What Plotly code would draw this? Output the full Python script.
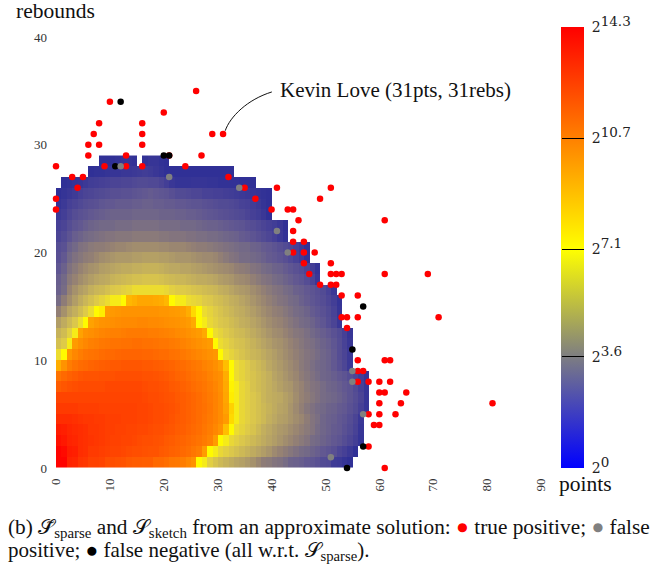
import plotly.graph_objects as go

# exponent (log2 of point count) per cell, one list per rebound row; column index = points
r0 = [14.2,14.2,13.3,13.2,12.8,12.7,12.4,12.4,12.3,12.0,
      12.0,11.9,11.8,11.6,11.5,11.5,11.4,11.4,11.0,11.0,
      10.8,10.5,10.4,10.2,9.8,9.4,7.1,7.0,6.6,6.3,
      6.0,5.8,5.6,5.4,5.3,5.1,4.9,4.6,4.3,4.2,
      4.0,3.9,3.7,3.4,3.3,3.2,3.0,2.9,2.7,2.4,
      2.3,1.6,1.5,1.2,1.0]
r1 = [14.2,14.0,13.5,13.4,13.0,12.9,12.6,12.6,12.5,12.4,
      12.3,12.3,12.2,12.1,12.0,12.0,11.9,11.8,11.8,11.6,
      11.5,11.3,11.2,11.0,10.8,10.5,10.2,9.0,7.1,7.0,
      6.8,6.6,6.4,6.2,6.0,5.8,5.6,5.4,5.2,5.0,
      4.7,4.5,4.3,4.1,3.9,3.7,3.6,3.4,3.2,3.0,
      2.8,2.6,2.2,1.9,1.5,1.0]
r2 = [13.8,13.6,13.3,13.2,13.0,12.9,12.8,12.7,12.6,12.5,
      12.4,12.4,12.3,12.3,12.2,12.1,12.0,12.0,11.9,11.8,
      11.6,11.5,11.3,11.2,11.0,10.8,10.6,10.3,10.0,9.0,
      7.1,7.0,6.8,6.6,6.4,6.2,6.0,5.8,5.6,5.4,
      5.2,5.0,4.8,4.6,4.4,4.2,4.0,3.7,3.6,3.4,
      3.2,3.0,2.8,2.5,2.2,1.8,1.2]
r3 = [13.5,13.4,13.2,13.1,13.0,12.9,12.7,12.7,12.6,12.5,
      12.5,12.4,12.4,12.3,12.3,12.2,12.2,12.1,12.0,12.0,
      11.8,11.7,11.5,11.4,11.2,11.0,10.8,10.5,10.2,9.8,
      9.3,8.0,7.1,6.9,6.7,6.5,6.3,6.0,5.7,5.5,
      5.3,5.1,5.0,4.8,4.6,4.4,4.2,4.0,3.7,3.5,
      3.3,3.1,3.0,2.7,2.4,2.0,1.3]
r4 = [13.0,13.0,13.0,12.9,12.8,12.7,12.7,12.6,12.6,12.5,
      12.5,12.5,12.4,12.4,12.4,12.3,12.3,12.2,12.1,12.1,
      12.0,11.8,11.6,11.5,11.3,11.1,10.9,10.6,10.3,10.0,
      9.6,9.0,7.6,7.0,6.8,6.6,6.4,6.2,6.0,5.7,
      5.5,5.3,5.2,5.0,4.8,4.6,4.3,4.0,3.8,3.5,
      3.3,3.2,3.0,2.8,2.5,2.1,1.4]
r5 = [12.6,12.6,12.6,12.6,12.5,12.5,12.5,12.5,12.4,12.4,
      12.4,12.4,12.4,12.4,12.4,12.3,12.3,12.2,12.1,12.1,
      12.0,11.9,11.7,11.5,11.3,11.1,10.9,10.7,10.4,10.0,
      9.6,8.8,7.7,7.0,6.8,6.6,6.4,6.2,6.0,5.8,
      5.6,5.4,5.3,5.0,4.7,4.4,4.1,3.9,3.7,3.6,
      3.4,3.3,3.1,3.0,2.7,2.4,1.9,1.3]
r6 = [12.3,12.3,12.3,12.3,12.3,12.3,12.3,12.3,12.3,12.3,
      12.3,12.3,12.3,12.3,12.3,12.3,12.2,12.1,12.1,12.0,
      11.9,11.8,11.6,11.5,11.3,11.1,10.9,10.6,10.3,10.0,
      9.6,8.7,7.3,7.0,6.8,6.6,6.4,6.2,5.9,5.7,
      5.6,5.5,5.3,5.1,4.8,4.5,4.3,4.1,3.9,3.7,
      3.6,3.5,3.3,3.1,2.8,2.5,2.1,1.3]
r7 = [11.5,11.7,11.9,12.0,12.1,12.1,12.1,12.1,12.1,12.2,
      12.2,12.2,12.2,12.2,12.2,12.2,12.1,12.0,12.0,11.9,
      11.8,11.6,11.5,11.3,11.1,10.9,10.7,10.5,10.2,9.9,
      9.5,8.6,7.2,7.0,6.8,6.6,6.3,6.1,5.9,5.7,
      5.5,5.3,5.1,5.0,4.7,4.5,4.2,4.0,3.9,3.7,
      3.5,3.4,3.2,3.0,2.8,2.4,1.9,1.3]
r8 = [10.6,11.0,11.3,11.5,11.7,11.8,11.8,11.8,11.9,11.9,
      11.9,12.0,12.0,12.0,12.0,12.0,11.9,11.9,11.8,11.7,
      11.6,11.4,11.2,11.1,10.9,10.7,10.5,10.3,10.0,9.7,
      9.5,8.5,7.1,6.9,6.7,6.5,6.3,6.1,5.9,5.7,
      5.4,5.2,5.0,4.8,4.6,4.3,4.1,3.9,3.7,3.5,
      3.4,3.2,3.0,2.8,2.5,2.2,1.7,1.2]
r9 = [8.5,9.3,10.2,10.6,10.9,11.0,11.2,11.3,11.4,11.5,
      11.6,11.6,11.7,11.7,11.7,11.7,11.6,11.6,11.5,11.4,
      11.3,11.2,11.0,10.9,10.7,10.5,10.3,10.0,9.8,9.5,
      9.0,8.0,7.1,6.9,6.7,6.5,6.2,6.0,5.8,5.5,
      5.3,5.1,4.9,4.7,4.5,4.2,4.0,3.8,3.6,3.5,
      3.3,3.0,2.6,2.2,1.5]
r10 = [6.9,7.1,9.2,9.8,10.2,10.5,10.6,10.7,10.9,11.0,
       11.0,11.1,11.2,11.2,11.2,11.2,11.1,11.1,11.0,10.9,
       10.9,10.7,10.6,10.4,10.2,10.0,9.8,9.6,9.4,9.2,
       7.1,6.9,6.7,6.5,6.3,6.1,5.9,5.8,5.6,5.4,
       5.2,5.0,4.8,4.6,4.4,4.2,4.0,3.9,3.7,3.5,
       3.3,3.0,2.5,2.1,1.5]
r11 = [6.2,6.5,7.0,9.0,9.5,9.8,10.1,10.2,10.4,10.5,
       10.6,10.6,10.7,10.7,10.8,10.8,10.7,10.7,10.6,10.5,
       10.5,10.3,10.2,10.0,9.8,9.6,9.4,9.2,9.0,7.1,
       6.9,6.7,6.5,6.3,6.2,6.0,5.8,5.6,5.4,5.2,
       5.0,4.9,4.7,4.5,4.3,4.1,3.9,3.8,3.6,3.4,
       3.2,2.9,2.5,2.0,1.4]
r12 = [5.8,6.1,6.6,7.0,8.8,9.3,9.5,9.7,9.9,10.0,
       10.1,10.1,10.2,10.3,10.3,10.3,10.3,10.2,10.2,10.1,
       10.0,9.9,9.7,9.6,9.4,9.2,9.0,8.6,7.1,6.9,
       6.7,6.5,6.3,6.1,6.0,5.8,5.6,5.4,5.2,5.0,
       4.8,4.7,4.5,4.3,4.1,4.0,3.8,3.6,3.4,3.2,
       3.0,2.7,2.4,1.9,1.3]
r13 = [5.2,5.6,6.0,6.4,6.9,7.1,8.8,9.1,9.3,9.4,
       9.5,9.6,9.7,9.7,9.7,9.8,9.8,9.7,9.7,9.6,
       9.5,9.4,9.3,9.2,9.0,8.6,7.1,7.0,6.8,6.6,
       6.4,6.3,6.1,5.9,5.7,5.6,5.4,5.2,5.0,4.8,
       4.6,4.5,4.3,4.1,3.9,3.7,3.6,3.4,3.1,2.9,
       2.5,2.1,1.4]
r14 = [4.4,4.9,5.4,5.7,6.1,6.5,6.9,7.1,7.3,9.0,
       9.1,9.2,9.3,9.3,9.3,9.3,9.3,9.3,9.3,9.2,
       9.2,9.1,9.0,8.9,8.5,7.6,7.1,6.9,6.7,6.5,
       6.3,6.1,5.9,5.7,5.6,5.4,5.2,5.0,4.8,4.6,
       4.4,4.3,4.1,3.9,3.7,3.6,3.4,3.1,2.9,2.7,
       2.4,2.0,1.3]
r15 = [3.7,4.3,4.8,5.2,5.6,5.9,6.2,6.5,6.7,6.9,
       7.0,7.0,7.1,8.2,8.4,8.7,8.7,8.7,8.6,8.5,
       8.2,7.1,7.0,7.0,6.9,6.8,6.7,6.5,6.4,6.2,
       6.1,5.9,5.7,5.6,5.4,5.2,5.0,4.8,4.6,4.4,
       4.2,4.0,3.9,3.7,3.6,3.3,3.1,2.9,2.7,2.5,
       2.2,1.8,1.2]
r16 = [3.3,3.7,4.5,4.9,5.2,5.4,5.7,5.9,6.0,6.2,
       6.4,6.5,6.6,6.7,6.9,6.9,6.9,6.9,6.9,6.9,
       6.8,6.6,6.5,6.5,6.4,6.3,6.2,6.1,6.0,5.9,
       5.7,5.6,5.4,5.2,5.1,5.0,4.8,4.6,4.4,4.2,
       4.0,3.9,3.7,3.6,3.3,3.2,3.0,2.8,2.6,2.4,
       2.0,1.4]
r17 = [3.2,3.6,4.2,4.5,4.8,5.0,5.2,5.4,5.5,5.6,
       5.8,5.9,6.0,6.1,6.2,6.2,6.3,6.3,6.3,6.2,
       6.1,6.0,5.9,5.9,5.8,5.7,5.6,5.6,5.5,5.4,
       5.2,5.1,5.0,4.8,4.7,4.6,4.4,4.2,4.0,3.9,
       3.7,3.6,3.4,3.2,3.0,2.8,2.5,2.1,1.4]
r18 = [2.9,3.3,3.9,4.2,4.5,4.7,4.9,5.0,5.2,5.3,
       5.4,5.5,5.6,5.6,5.7,5.7,5.8,5.8,5.8,5.7,
       5.6,5.5,5.5,5.4,5.4,5.3,5.2,5.1,5.0,4.9,
       4.8,4.7,4.6,4.4,4.3,4.2,4.0,3.9,3.7,3.6,
       3.4,3.3,3.1,2.9,2.7,2.5,2.2,1.8,1.2]
r19 = [2.6,3.0,3.6,3.9,4.1,4.3,4.4,4.6,4.8,4.9,
       5.0,5.1,5.1,5.1,5.2,5.2,5.3,5.3,5.3,5.2,
       5.2,5.1,5.0,5.0,5.0,4.9,4.8,4.7,4.7,4.6,
       4.4,4.2,4.0,3.9,3.7,3.7,3.6,3.5,3.3,3.1,
       3.0,2.8,2.6,2.3,2.0,1.6,1.1]
r20 = [2.5,2.7,3.3,3.6,3.9,4.0,4.2,4.3,4.3,4.4,
       4.5,4.6,4.6,4.7,4.8,4.8,4.8,4.8,4.8,4.7,
       4.7,4.6,4.6,4.6,4.5,4.4,4.3,4.3,4.2,4.1,
       4.0,3.9,3.8,3.7,3.6,3.6,3.4,3.3,3.1,3.0,
       2.8,2.6,2.4,2.2,1.9,1.5,1.1]
r21 = [2.1,2.4,2.8,3.2,3.4,3.6,3.7,3.8,3.9,4.0,
       4.0,4.1,4.1,4.1,4.2,4.2,4.2,4.2,4.2,4.1,
       4.1,4.0,4.0,4.0,3.9,3.9,3.8,3.8,3.7,3.7,
       3.6,3.5,3.4,3.3,3.1,3.0,2.8,2.6,2.4,2.2,
       1.9,1.5,1.1]
r22 = [1.9,2.1,2.5,2.8,3.0,3.2,3.4,3.5,3.6,3.6,
       3.6,3.7,3.7,3.7,3.8,3.8,3.8,3.8,3.8,3.7,
       3.7,3.7,3.7,3.6,3.6,3.6,3.5,3.4,3.3,3.3,
       3.2,3.1,3.0,2.9,2.8,2.6,2.5,2.3,2.1,1.9,
       1.7,1.4,1.0]
r23 = [1.5,1.8,2.2,2.5,2.7,2.8,3.0,3.1,3.2,3.3,
       3.4,3.4,3.4,3.4,3.5,3.5,3.5,3.5,3.5,3.4,
       3.4,3.4,3.3,3.3,3.2,3.2,3.1,3.0,2.9,2.8,
       2.7,2.6,2.5,2.4,2.3,2.1,1.9,1.7,1.4,1.0]
r24 = [1.2,1.5,1.9,2.1,2.3,2.5,2.6,2.7,2.9,3.0,
       3.0,3.1,3.1,3.1,3.2,3.2,3.3,3.3,3.2,3.2,
       3.1,3.1,3.0,3.0,2.9,2.8,2.8,2.7,2.6,2.5,
       2.4,2.4,2.3,2.2,2.0,1.9,1.7,1.5,1.2,1.0]
r25 = [1.0,1.2,1.4,1.6,1.9,2.1,2.2,2.3,2.4,2.5,
       2.6,2.6,2.7,2.7,2.8,2.9,3.0,3.1,3.0,2.9,
       2.8,2.6,2.4,2.4,2.3,2.2,2.2,2.0,2.0,1.9,
       1.9,1.8,1.7,1.6,1.5,1.4,1.3,1.2,1.1,1.0]
r26 = [None,1.0,1.1,1.2,1.3,1.5,1.7,1.8,1.9,2.0,
       2.1,2.1,2.2,2.2,2.3,2.4,2.4,2.3,2.3,2.1,
       1.8,1.4,1.2,1.2,1.2,1.3,1.3,1.3,1.2,1.2,
       1.1,1.1,1.1,1.1,1.0,1.0,1.0]
r27 = [None,None,None,None,None,None,1.0,1.1,1.1,1.2,
       1.3,1.3,1.4,1.4,1.5,1.6,1.7,1.6,1.4,1.2,
       1.0,1.0,1.0,1.0,1.0,1.0,1.0,1.0,1.0,1.0,
       1.0,1.0,1.0]
r28 = [None,None,None,None,None,None,None,None,1.0,1.0,
       1.0,1.1,1.2,1.2,1.1,None,1.1,1.3,1.3,1.1,1.0]
heat_rows = [r0,r1,r2,r3,r4,r5,r6,r7,r8,r9,r10,r11,r12,r13,r14,r15,r16,r17,r18,r19,
             r20,r21,r22,r23,r24,r25,r26,r27,r28]

true_pos_pts = [0,0,0,3,5,4,6,6,7,8,8,10,9,13,13,16,16,16,16,20,21,24,27,26,29,31,32,35,37,40,41,43,44,45,
                44,44,46,49,51,61,44,46,48,46,51,47,51,52,53,61,69,49,51,52,53,56,53,54,56,71,54,56,61,62,
                56,57,56,58,60,62,60,61,65,60,64,81,58,60,63,59,60,58,61]
true_pos_reb = [28,25,24,27,27,26,29,30,31,32,30,34,28,28,29,28,30,31,32,33,29,28,29,35,31,31,27,26,25,24,26,24,24,23,
                22,21,21,25,26,23,20,20,20,19,19,18,18,18,18,18,18,17,17,17,16,16,14,14,14,14,13,10,10,10,
                9,9,8,8,8,8,7,7,7,6,6,6,5,5,5,4,4,2,0]
false_pos_pts = [12,21,34,41,43,55,55,57,51]
false_pos_reb = [28,27,26,22,20,9,8,5,1]
false_neg_pts = [12,11,20,21,57,55,57,54]
false_neg_reb = [34,28,29,29,15,11,2,0]

x_ticks = [0,10,20,30,40,50,60,70,80,90]
y_ticks = [0,10,20,30,40]
bar_ticks = [0,3.6,7.1,10.7,14.3]
bar_exps = ["0","3.6","7.1","10.7","14.3"]

ZMAX = 14.3
heat_stops = [(0,(40,40,150)),(1,(48,48,150)),(2,(72,66,150)),(3,(98,88,145)),(3.6,(115,105,135)),
              (4.5,(150,130,115)),(5.5,(188,168,98)),(6.5,(222,202,72)),(6.9,(236,220,48)),(7.1,(255,250,0)),
              (8,(255,190,0)),(9,(255,155,0)),(10,(255,130,0)),(11,(255,105,0)),(12,(255,78,0)),
              (13,(255,45,0)),(14.3,(255,0,0))]
heat_scale = [[z/ZMAX, f"rgb{c}"] for z,c in heat_stops]
bar_scale = [[0,"rgb(0,0,255)"],[3.6/ZMAX,"rgb(125,125,130)"],[7.1/ZMAX,"rgb(255,255,0)"],
             [10.7/ZMAX,"rgb(255,128,0)"],[1,"rgb(255,0,0)"]]

ncols = 58
z = [row + [None]*(ncols-len(row)) for row in heat_rows]

SERIF = "Liberation Serif"
bar_labels = [f"\u00a02<sup><span style='font-size:13.5px'>{e}</span></sup>" for e in bar_exps]
fig = go.Figure()
fig.add_trace(go.Heatmap(z=z, x0=0.5, dx=1, y0=0.5, dy=1, zmin=0, zmax=ZMAX, colorscale=heat_scale,
                         showscale=False, hoverongaps=False))
for xs,ys,col in [(true_pos_pts,true_pos_reb,"#ff0000"),(false_neg_pts,false_neg_reb,"#000000"),
                  (false_pos_pts,false_pos_reb,"#808080")]:
    fig.add_trace(go.Scatter(x=xs,y=ys,mode="markers",cliponaxis=False,showlegend=False,
                             marker=dict(color=col,size=6.5,line=dict(width=0))))
fig.add_trace(go.Scatter(x=[None],y=[None],mode="markers",showlegend=False,
    marker=dict(color=[0],cmin=0,cmax=ZMAX,colorscale=bar_scale,showscale=True,
        colorbar=dict(x=(561-56)/485,xanchor="left",xpad=0,ypad=0,thickness=22.5,thicknessmode="pixels",
                      len=441.3,lenmode="pixels",y=0,yanchor="bottom",outlinewidth=0,
                      tickmode="array",tickvals=bar_ticks,ticktext=bar_labels,ticks="inside",ticklen=22,
                      tickcolor="#000000",tickwidth=1,
                      tickfont=dict(family="DejaVu Serif",size=14,color="#222222")))))

W,H = 485,431
def px_x(p): return (p-56)/W
def px_y(p): return (468-p)/H
SC = "\U0001D4AE"
ann = [
 dict(text="rebounds",x=px_x(14),y=px_y(11),size=21.5),
 dict(text="points",x=px_x(557),y=px_y(484),size=21.5),
 dict(text="Kevin Love (31pts, 31rebs)",x=px_x(278),y=px_y(90),size=21),
 dict(text=f"(b) {SC}\u0303<sub>sparse</sub> and {SC}<sub>sketch</sub> from an approximate solution: "
           "<span style='color:#ff0000'>\u25cf</span> true positive; "
           "<span style='color:#808080'>\u25cf</span> false",x=px_x(6),y=px_y(528),size=21.3),
 dict(text=f"positive; <span style='color:#000000'>\u25cf</span> false negative (all w.r.t. {SC}<sub>sparse</sub>).",
      x=px_x(6),y=px_y(551),size=21),
]
fig.update_layout(
    width=656,height=570,autosize=False,paper_bgcolor="white",plot_bgcolor="white",showlegend=False,
    margin=dict(l=56,r=115,t=37,b=102,pad=0,autoexpand=False),
    xaxis=dict(range=[0,90],tickmode="array",tickvals=x_ticks,tickangle=-90,showgrid=False,zeroline=False,
               showline=False,ticks="",ticklabelstandoff=7,tickfont=dict(family=SERIF,size=13,color="#333333")),
    yaxis=dict(range=[0,40],tickmode="array",tickvals=y_ticks,showgrid=False,zeroline=False,
               showline=False,ticks="",ticklabelstandoff=8,tickfont=dict(family=SERIF,size=13,color="#333333")),
    annotations=[dict(text=a["text"],x=a["x"],y=a["y"],xref="paper",yref="paper",xanchor="left",yanchor="middle",
                      showarrow=False,align="left",font=dict(family=SERIF,size=a["size"],color="#111111")) for a in ann],
    shapes=[dict(type="path",xref="x",yref="y",line=dict(color="#111111",width=1),
                 path="M 31.4 31.3 C 32.3 32.6 35.5 34.2 40.05 34.9")],
)
fig.write_html("out.html",config={"displayModeBar":False},post_script="document.body.style.margin='0';")
